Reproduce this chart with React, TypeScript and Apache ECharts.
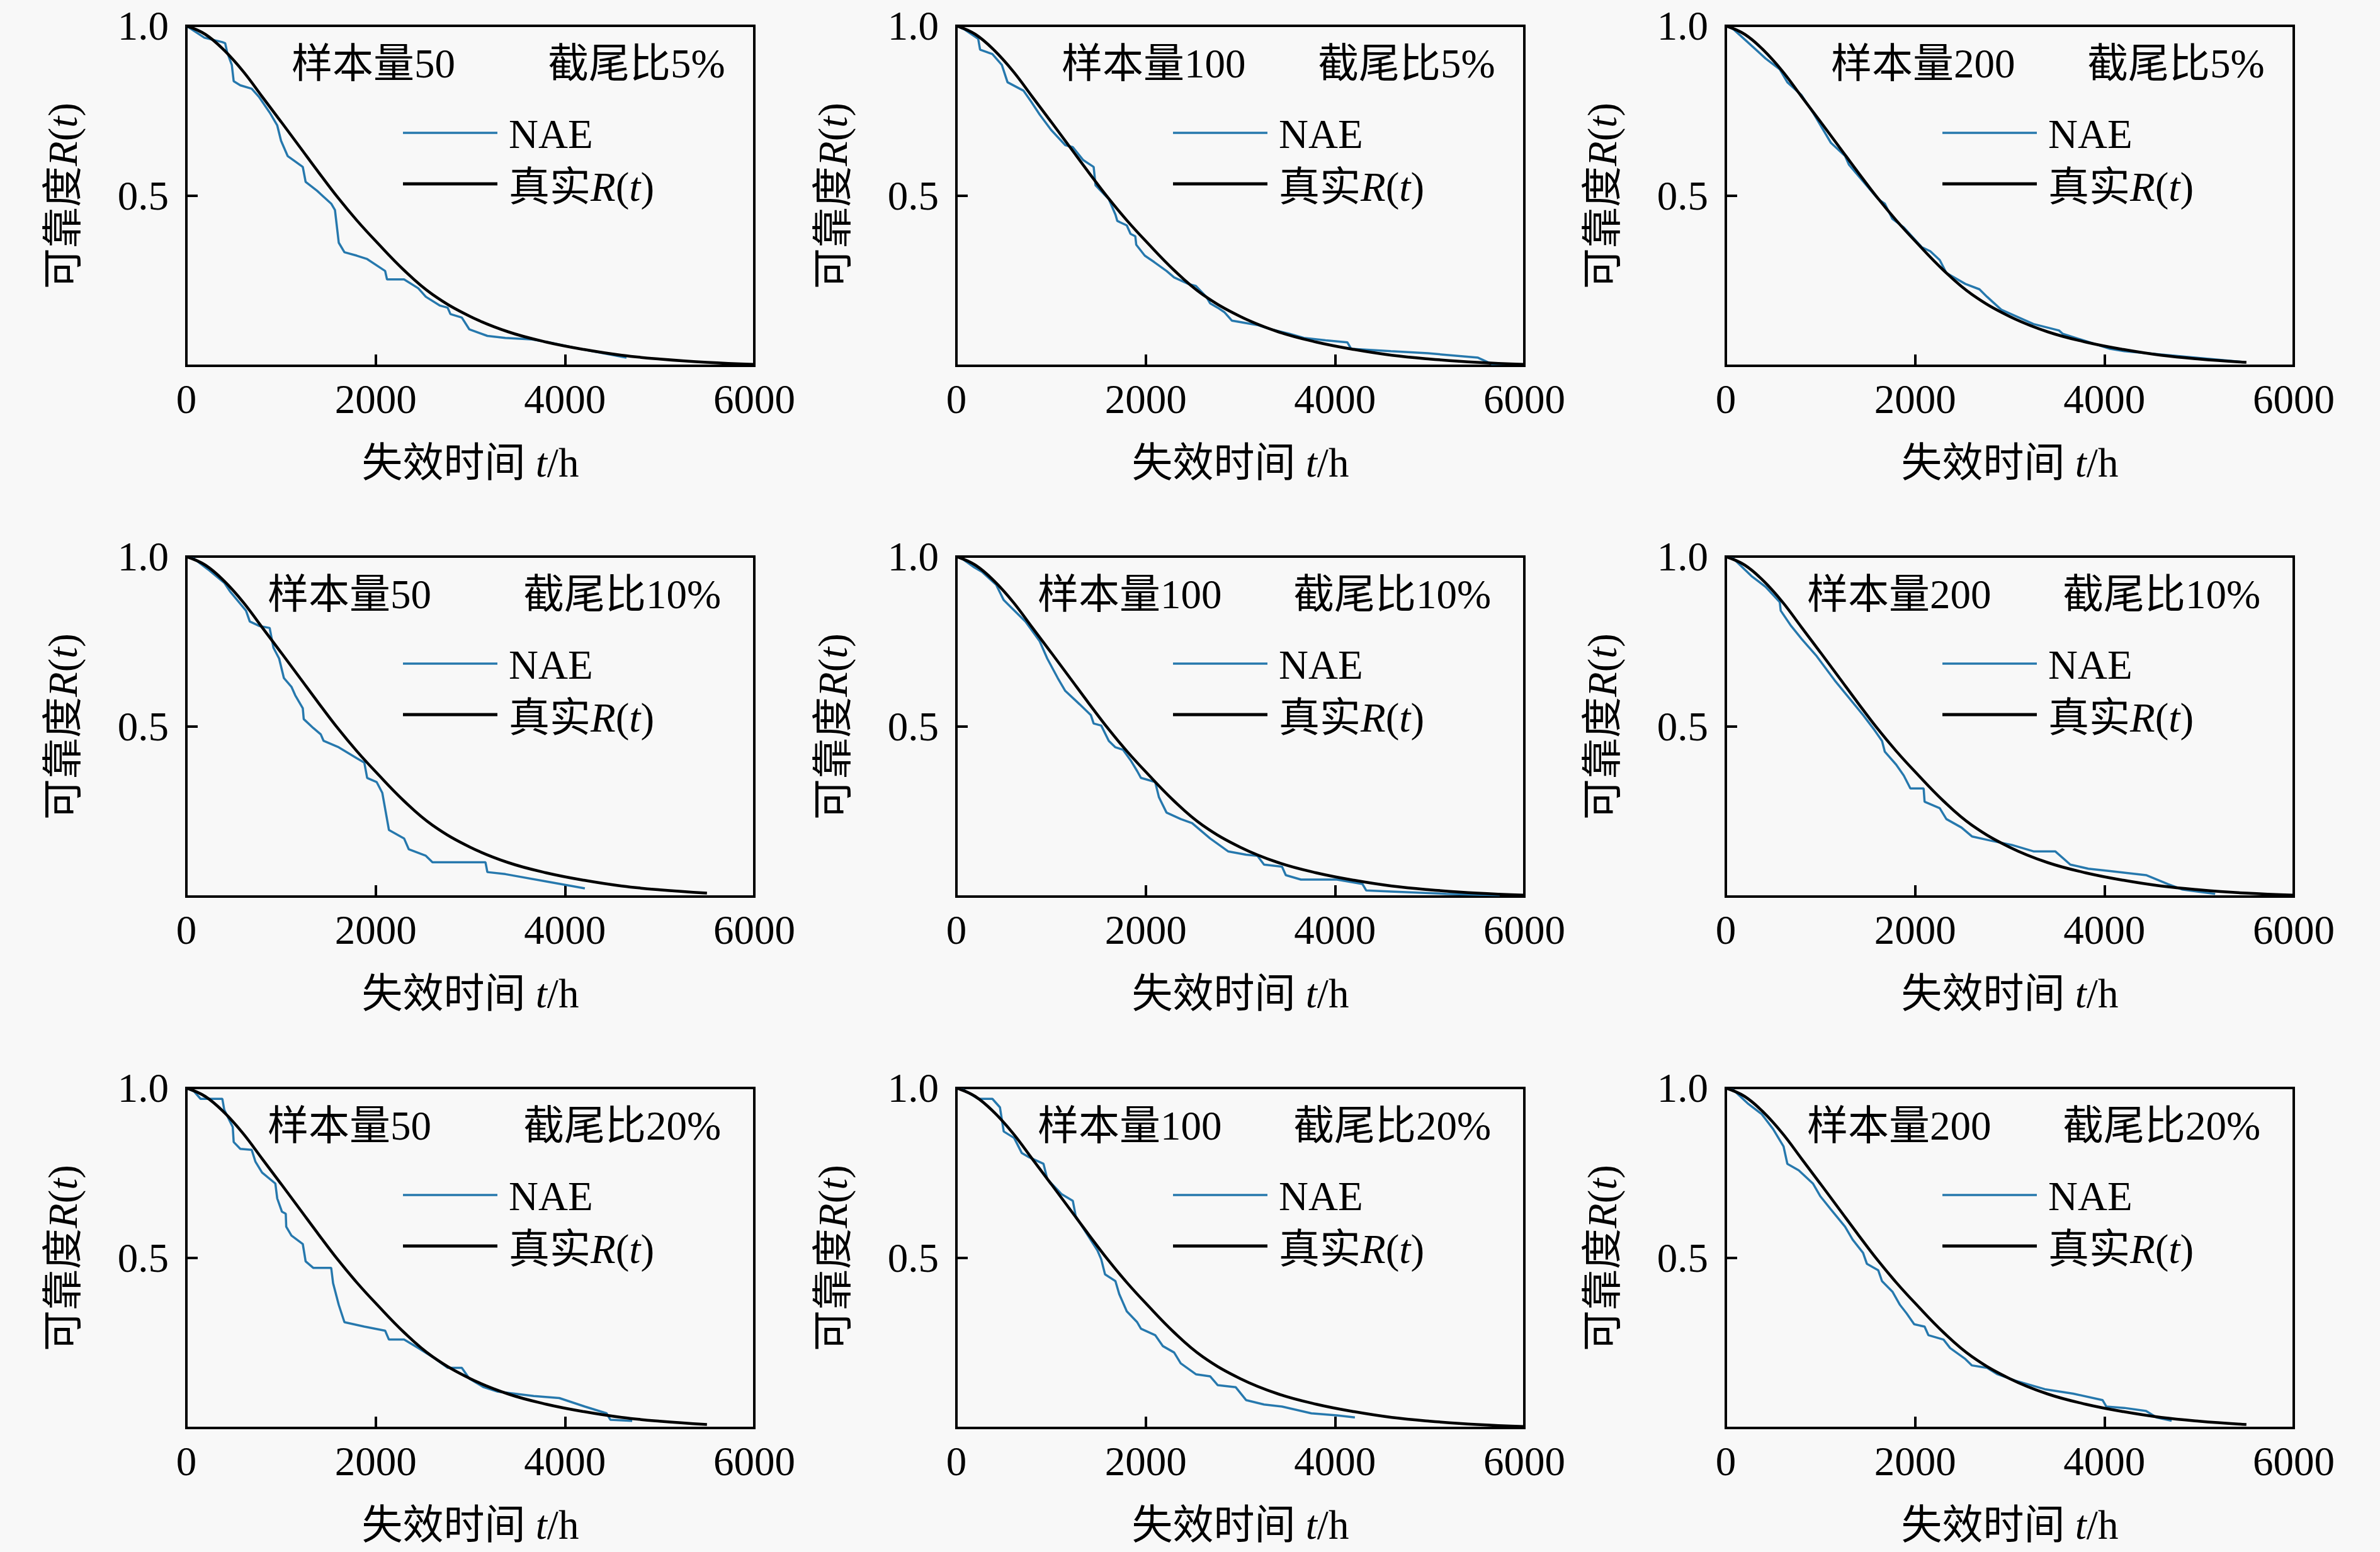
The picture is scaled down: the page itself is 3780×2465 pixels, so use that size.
import React, { useEffect, useRef } from 'react';
import * as echarts from 'echarts';

// true reliability curve
const trueT = [0, 200, 400, 600, 800, 1000, 1200, 1400, 1600, 1800, 2000, 2300, 2600, 3000, 3400, 3800, 4200, 4600, 5000, 5500, 6000];
const trueR = [1.0, 0.975, 0.928, 0.866, 0.792, 0.718, 0.643, 0.568, 0.495, 0.428, 0.367, 0.281, 0.21, 0.145, 0.1, 0.07, 0.048, 0.031, 0.02, 0.01, 0.004];

const sampleSizes = [50, 100, 200];
const censorRatios = ['5%', '10%', '20%'];
// where the black curve stops in each panel (row by row)
const trueEnd = [6000, 6000, 5500, 5500, 6000, 6000, 5500, 6000, 5500];

const xTicks = [0, 2000, 4000, 6000];
const yTicks = [0, 0.5, 1.0];

// NAE estimates [t, R]
const nae50_5 = [[0, 1], [190, 0.965], [380, 0.952], [410, 0.949], [430, 0.923], [480, 0.885], [500, 0.837], [570, 0.825], [690, 0.815], [770, 0.79], [880, 0.745], [960, 0.707], [1000, 0.662], [1070, 0.617], [1230, 0.585], [1260, 0.541], [1380, 0.515], [1530, 0.477], [1570, 0.458], [1610, 0.362], [1670, 0.334], [1800, 0.324], [1910, 0.314], [2100, 0.279], [2120, 0.254], [2300, 0.254], [2450, 0.228], [2530, 0.203], [2680, 0.177], [2760, 0.171], [2790, 0.152], [2910, 0.142], [2990, 0.107], [3180, 0.088], [3370, 0.082], [3640, 0.078], [3830, 0.069], [4210, 0.047], [4650, 0.024]];
const nae100_5 = [[0, 1], [80, 0.99], [230, 0.962], [250, 0.93], [380, 0.917], [480, 0.885], [540, 0.834], [710, 0.809], [790, 0.777], [880, 0.739], [1000, 0.694], [1150, 0.649], [1230, 0.643], [1340, 0.605], [1450, 0.585], [1470, 0.531], [1610, 0.49], [1680, 0.445], [1700, 0.426], [1800, 0.413], [1840, 0.388], [1890, 0.381], [1900, 0.356], [1990, 0.324], [2090, 0.305], [2220, 0.279], [2300, 0.26], [2450, 0.241], [2530, 0.235], [2640, 0.203], [2680, 0.184], [2760, 0.171], [2830, 0.158], [2910, 0.133], [3180, 0.12], [3290, 0.11], [3520, 0.094], [3670, 0.082], [3900, 0.075], [4130, 0.069], [4170, 0.05], [4590, 0.043], [4980, 0.037], [5510, 0.024], [5660, 0.005], [5860, 0.005]];
const nae200_5 = [[0, 1], [80, 0.99], [420, 0.904], [570, 0.872], [650, 0.834], [800, 0.796], [920, 0.745], [1110, 0.656], [1260, 0.617], [1300, 0.592], [1610, 0.49], [1680, 0.477], [1760, 0.432], [1880, 0.407], [2070, 0.349], [2160, 0.337], [2260, 0.311], [2330, 0.273], [2530, 0.241], [2680, 0.225], [2760, 0.203], [2910, 0.165], [3250, 0.123], [3520, 0.104], [3560, 0.094], [4060, 0.05], [4210, 0.043], [5470, 0.011]];
const nae50_10 = [[0, 1], [80, 0.994], [230, 0.962], [400, 0.923], [460, 0.898], [630, 0.841], [670, 0.809], [770, 0.796], [880, 0.79], [920, 0.732], [980, 0.7], [1030, 0.643], [1110, 0.617], [1150, 0.592], [1230, 0.554], [1240, 0.522], [1340, 0.496], [1420, 0.477], [1450, 0.458], [1610, 0.439], [1800, 0.407], [1880, 0.394], [1910, 0.349], [2010, 0.337], [2070, 0.305], [2140, 0.196], [2300, 0.171], [2350, 0.139], [2530, 0.12], [2600, 0.101], [3160, 0.101], [3180, 0.072], [3370, 0.066], [3830, 0.043], [4210, 0.024]];
const nae100_10 = [[0, 1], [60, 0.994], [190, 0.968], [270, 0.955], [420, 0.917], [500, 0.872], [570, 0.853], [730, 0.809], [880, 0.751], [960, 0.7], [1070, 0.643], [1150, 0.605], [1300, 0.566], [1420, 0.534], [1450, 0.509], [1530, 0.503], [1610, 0.458], [1680, 0.439], [1760, 0.432], [1840, 0.401], [1910, 0.369], [1950, 0.349], [2100, 0.337], [2140, 0.292], [2220, 0.247], [2370, 0.228], [2490, 0.216], [2680, 0.171], [2870, 0.133], [3060, 0.123], [3180, 0.12], [3250, 0.094], [3440, 0.088], [3480, 0.063], [3640, 0.05], [4020, 0.05], [4290, 0.037], [4330, 0.018], [4590, 0.015], [5170, 0.008], [5740, 0.004]];
const nae200_10 = [[0, 1], [80, 0.994], [270, 0.943], [420, 0.911], [570, 0.866], [580, 0.841], [690, 0.796], [800, 0.758], [960, 0.707], [1150, 0.636], [1300, 0.585], [1450, 0.534], [1570, 0.49], [1650, 0.458], [1680, 0.426], [1800, 0.388], [1880, 0.356], [1950, 0.318], [2090, 0.318], [2100, 0.279], [2260, 0.26], [2330, 0.228], [2490, 0.203], [2600, 0.177], [2790, 0.165], [3020, 0.152], [3250, 0.133], [3480, 0.133], [3640, 0.094], [3830, 0.082], [4060, 0.075], [4440, 0.063], [4670, 0.037], [4820, 0.021], [5170, 0.008]];
const nae50_20 = [[0, 1], [80, 0.99], [150, 0.968], [380, 0.968], [400, 0.936], [490, 0.885], [500, 0.841], [570, 0.821], [690, 0.818], [730, 0.783], [800, 0.751], [940, 0.719], [960, 0.675], [1010, 0.636], [1050, 0.63], [1055, 0.592], [1110, 0.566], [1230, 0.541], [1260, 0.49], [1340, 0.471], [1530, 0.471], [1550, 0.426], [1610, 0.362], [1670, 0.311], [1880, 0.298], [2100, 0.286], [2140, 0.26], [2300, 0.26], [2450, 0.235], [2600, 0.209], [2760, 0.177], [2910, 0.177], [2990, 0.145], [3140, 0.12], [3290, 0.107], [3670, 0.094], [3940, 0.088], [4210, 0.063], [4440, 0.043], [4480, 0.024], [4710, 0.021]];
const nae100_20 = [[0, 1], [80, 0.994], [230, 0.968], [380, 0.968], [460, 0.943], [500, 0.872], [610, 0.853], [690, 0.809], [770, 0.796], [920, 0.777], [960, 0.732], [1110, 0.688], [1230, 0.668], [1260, 0.624], [1300, 0.605], [1490, 0.522], [1530, 0.496], [1570, 0.452], [1680, 0.432], [1720, 0.394], [1800, 0.343], [1910, 0.311], [1950, 0.292], [2100, 0.273], [2180, 0.241], [2300, 0.222], [2370, 0.19], [2530, 0.158], [2680, 0.152], [2760, 0.126], [2950, 0.12], [3060, 0.082], [3250, 0.069], [3440, 0.063], [3750, 0.043], [4020, 0.037], [4210, 0.031]];
const nae200_20 = [[0, 1], [80, 0.994], [230, 0.955], [380, 0.923], [500, 0.879], [610, 0.828], [650, 0.777], [770, 0.758], [920, 0.719], [1000, 0.681], [1110, 0.643], [1260, 0.592], [1340, 0.554], [1450, 0.515], [1490, 0.483], [1610, 0.464], [1650, 0.432], [1760, 0.401], [1840, 0.362], [1910, 0.337], [1990, 0.305], [2100, 0.298], [2140, 0.273], [2300, 0.26], [2370, 0.235], [2530, 0.203], [2600, 0.184], [2760, 0.177], [2870, 0.158], [3060, 0.139], [3370, 0.114], [3670, 0.101], [3980, 0.082], [4020, 0.063], [4210, 0.059], [4440, 0.05], [4550, 0.031], [4710, 0.021]];

const naeByPanel = [nae50_5, nae100_5, nae200_5, nae50_10, nae100_10, nae200_10, nae50_20, nae100_20, nae200_20];

const SERIF = '"Liberation Serif", "Times New Roman", "Noto Sans CJK SC", serif';
const FS = 65;
const NAE_COLOR = '#2678ad';

const App = () => {
  const chartRef = useRef(null);

  useEffect(() => {
    document.body.style.margin = '0';
    const chart = echarts.init(chartRef.current, null, { renderer: 'svg' });

    const lefts = [296, 1519, 2741];
    const tops = [41, 884, 1728];
    const W = 902;
    const H = 540;

    const grids: any[] = [];
    const xAxes: any[] = [];
    const yAxes: any[] = [];
    const series: any[] = [];
    const graphics: any[] = [];
    const italic = { i: { fontStyle: 'italic', fontSize: FS, fontFamily: SERIF, fill: '#000' } };
    const txt = (x, y, text, extra = {}) => ({
      type: 'text',
      x,
      y,
      silent: true,
      style: { text, fontSize: FS, fontFamily: SERIF, fill: '#000', verticalAlign: 'middle', rich: italic, ...extra },
    });

    for (let row = 0; row < 3; row++) {
      for (let col = 0; col < 3; col++) {
        const k = row * 3 + col;
        const L = lefts[col];
        const T = tops[row];
        grids.push({ left: L, top: T, width: W, height: H, show: true, borderColor: '#000', borderWidth: 4, backgroundColor: 'transparent' });
        xAxes.push({
          gridIndex: k,
          type: 'value',
          min: xTicks[0],
          max: xTicks[xTicks.length - 1],
          interval: 2000,
          axisLine: { show: false },
          splitLine: { show: false },
          axisTick: { inside: true, length: 18, lineStyle: { color: '#000', width: 4 } },
          axisLabel: {
            margin: 20,
            fontSize: FS,
            fontFamily: SERIF,
            color: '#000',
            showMinLabel: true,
            showMaxLabel: true,
            formatter: (v) => String(v),
          },
        });
        yAxes.push({
          gridIndex: k,
          type: 'value',
          min: yTicks[0],
          max: yTicks[yTicks.length - 1],
          interval: 0.5,
          axisLine: { show: false },
          splitLine: { show: false },
          axisTick: { inside: true, length: 18, lineStyle: { color: '#000', width: 4 } },
          axisLabel: {
            margin: 28,
            fontSize: FS,
            fontFamily: SERIF,
            color: '#000',
            formatter: (v) => (v === 0 ? '' : v.toFixed(1)),
          },
        });
        series.push({
          name: 'NAE',
          type: 'line',
          xAxisIndex: k,
          yAxisIndex: k,
          data: naeByPanel[k],
          showSymbol: false,
          symbol: 'none',
          lineStyle: { color: NAE_COLOR, width: 3.5 },
          z: 2,
        });
        series.push({
          name: '真实R(t)',
          type: 'line',
          xAxisIndex: k,
          yAxisIndex: k,
          data: trueT.filter((t) => t <= trueEnd[k]).map((t, i) => [t, trueR[i]]),
          smooth: 0.4,
          showSymbol: false,
          symbol: 'none',
          lineStyle: { color: '#000', width: 4.5 },
          z: 3,
        });

        const sx = row === 0 ? 167 : 129;
        const cx = row === 0 ? 574 : 535;
        graphics.push(txt(L + sx, T + 60, `样本量${sampleSizes[col]}`));
        graphics.push(txt(L + cx, T + 60, `截尾比${censorRatios[row]}`));
        graphics.push({ type: 'line', silent: true, shape: { x1: L + 344, y1: T + 170, x2: L + 494, y2: T + 170 }, style: { stroke: NAE_COLOR, lineWidth: 3.5 } });
        graphics.push(txt(L + 512, T + 172, 'NAE'));
        graphics.push({ type: 'line', silent: true, shape: { x1: L + 344, y1: T + 251, x2: L + 494, y2: T + 251 }, style: { stroke: '#000', lineWidth: 5 } });
        graphics.push(txt(L + 512, T + 256, '真实{i|R}({i|t})'));
        graphics.push({ ...txt(L - 196, T + H / 2, '可靠度{i|R}({i|t})', { align: 'center' }), rotation: Math.PI / 2 });
        graphics.push(txt(L + W / 2, T + H + 154, '失效时间 {i|t}/h', { align: 'center' }));
      }
    }

    chart.setOption({
      animation: false,
      backgroundColor: '#f8f8f8',
      grid: grids,
      xAxis: xAxes,
      yAxis: yAxes,
      series,
      graphic: graphics,
    });

    return () => {
      chart.dispose();
    };
  }, []);

  return <div ref={chartRef} style={{ width: '3780px', height: '2465px' }} />;
};

export default App;
